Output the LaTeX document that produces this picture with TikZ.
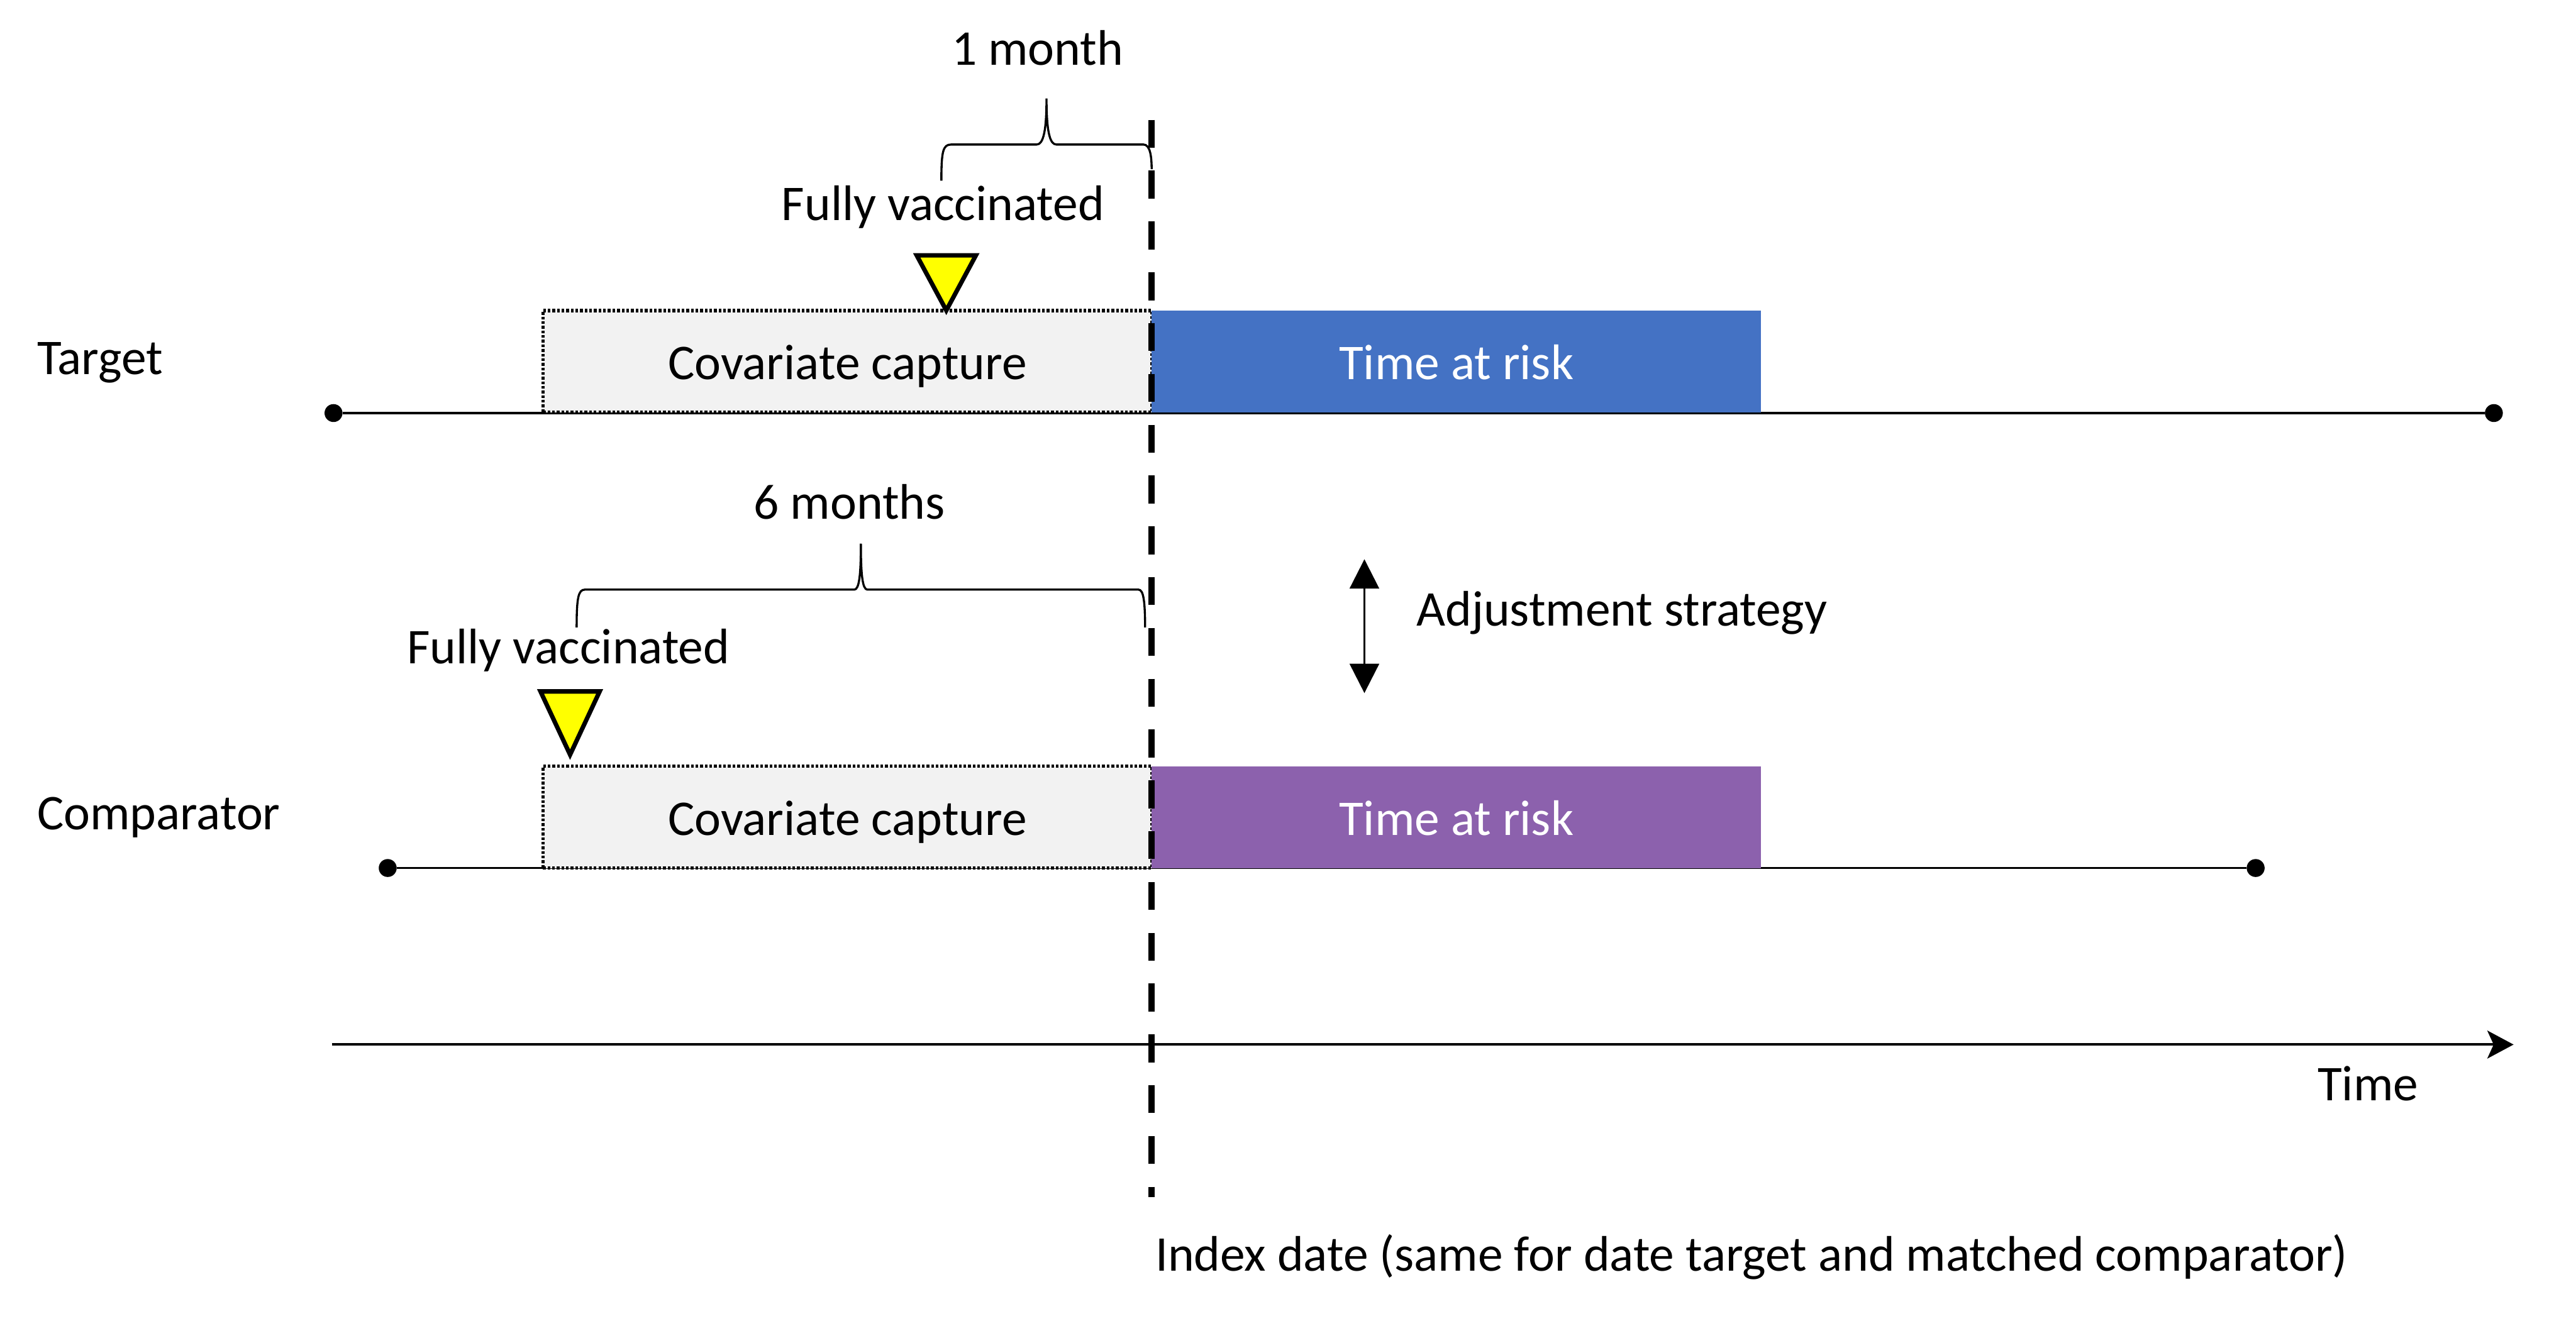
\documentclass[tikz,border=0pt]{standalone}
\usepackage{fontspec}
\setmainfont{Carlito}
\usetikzlibrary{arrows.meta}
\definecolor{riskblue}{HTML}{4472C4}
\definecolor{riskpurple}{HTML}{8C61AD}
\definecolor{covgray}{HTML}{F2F2F2}
\definecolor{vacyellow}{HTML}{FFFF00}
\begin{document}
\begin{tikzpicture}[x=0.0275cm, y=-0.0275cm,
  txt/.style={font=\fontsize{23.8}{28}\selectfont, inner sep=0pt},
  covbox/.style={draw=black, fill=covgray, line width=1.7pt, dash pattern=on 1.3pt off 0.9pt,
    minimum width=10.19cm, minimum height=1.705cm, inner sep=0pt, txt, text height=17.2pt, text depth=0pt},
  riskbox/.style={fill=#1, minimum width=10.2cm, minimum height=1.705cm, inner sep=0pt,
    txt, text=white, text height=17.2pt, text depth=0pt},
  enddot/.style={circle, fill=black, inner sep=0pt, minimum size=0.3cm},
  tline/.style={line width=1.1pt},
  bracepath/.style={line width=1pt},
  vtri/.style={draw=black, fill=vacyellow, line width=2.1pt, line join=miter},
  idxline/.style={line width=3.1pt, dash pattern=on 13.3pt off 10.9pt},
]
\useasboundingbox (0,0) rectangle (1568,807);

% timelines
\node[enddot] (t0) at (203,251.5) {};
\node[enddot] (t1) at (1518,251.5) {};
\node[enddot] (c0) at (236,528.5) {};
\node[enddot] (c1) at (1373,528.5) {};
\draw[tline] (t0) -- (t1);
\draw[tline] (c0) -- (c1);

% boxes
\node[covbox] (covT) at (515.8,220) {Covariate capture};
\node[riskbox=riskblue] (riskT) at (886.5,220) {Time at risk};
\node[covbox] (covC) at (515.8,497.5) {Covariate capture};
\node[riskbox=riskpurple] (riskC) at (886.5,497.5) {Time at risk};

% row labels
\node[txt, anchor=base west] (tgt) at (22.4,228) {Target};
\node[txt, anchor=base west] (cmp) at (22.4,505) {Comparator};

% vaccination triangles
\draw[vtri] (558,155.5) -- (594,155.5) -- (576,189) -- cycle;
\draw[vtri] (329,421) -- (365,421) -- (347,459.5) -- cycle;
\node[txt, anchor=base] (fv1) at (574,134) {Fully vaccinated};
\node[txt, anchor=base] (fv2) at (346,404) {Fully vaccinated};

% braces
\draw[bracepath] (573,110) .. controls (573,92) and (574,88) .. (579,88) -- (631,88)
  .. controls (635,88) and (637,80) .. (637,60) .. controls (637,80) and (639,88) .. (643,88)
  -- (696,88) .. controls (700,88) and (701,95) .. (701,103);
\node[txt, anchor=base] (m1) at (631.5,39.5) {1 month};
\draw[bracepath] (351,382) .. controls (351,364) and (352,359) .. (356,359) -- (520,359)
  .. controls (523,359) and (524,350) .. (524,331) .. controls (524,350) and (525,359) .. (528,359)
  -- (693,359) .. controls (696,359) and (697,366) .. (697,382);
\node[txt, anchor=base] (m6) at (517,316) {6 months};

% adjustment arrow
\coordinate (adjT) at (830.5,340.5);
\coordinate (adjB) at (830.5,422);
\draw[line width=0.9pt, {Triangle[length=14pt,width=14pt]}-{Triangle[length=14pt,width=14pt]}] (adjT) -- (adjB);
\node[txt, anchor=base west] (adj) at (862,381) {Adjustment strategy};

% time axis
\coordinate (axL) at (202,636);
\coordinate (axR) at (1530,636);
\draw[line width=1.2pt, -{Stealth[length=12.5pt,width=13.3pt,inset=3pt]}] (axL) -- (axR);
\node[txt, anchor=base west] (time) at (1410.5,670) {Time};

% index date line
\coordinate (idxTop) at (701,73);
\coordinate (idxBot) at (701,729);
\draw[idxline] (idxTop) -- (idxBot);
\node[txt, anchor=base west] (idxlbl) at (703,774) {Index date (same for date target and matched comparator)};
\end{tikzpicture}
\end{document}
